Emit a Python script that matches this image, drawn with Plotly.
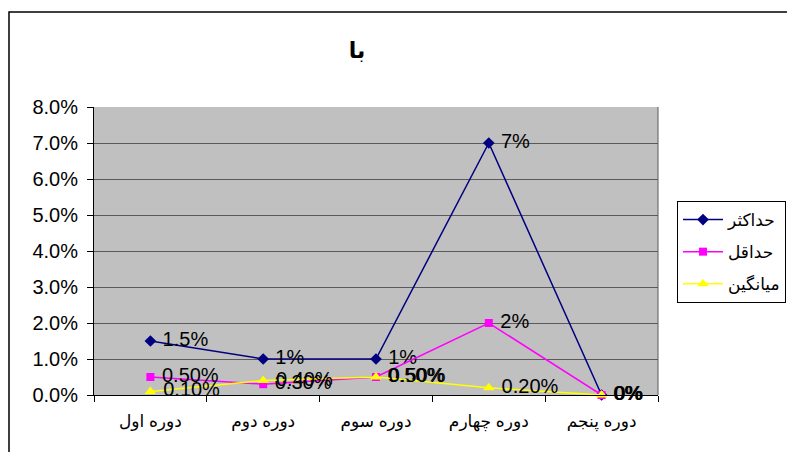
import plotly.graph_objects as go

categories = ["دوره اول", "دوره دوم", "دوره سوم", "دوره چهارم", "دوره پنجم"]

series_names = ["حداکثر", "حداقل", "میانگین"]
max_values = [0.015, 0.01, 0.01, 0.07, 0.0]
min_values = [0.005, 0.003, 0.005, 0.02, 0.0]
avg_values = [0.001, 0.004, 0.005, 0.002, 0.0]

max_labels = ["1.5%", "1%", "1%", "7%", "0%"]
min_labels = ["0.50%", "0.30%", "0.50%", "2%", "0%"]
avg_labels = ["0.10%", "0.40%", "0.50%", "0.20%", "0%"]

y_ticks = [0.0, 0.01, 0.02, 0.03, 0.04, 0.05, 0.06, 0.07, 0.08]

styles = [
    dict(color="#000080", symbol="diamond", size=9),
    dict(color="#FF00FF", symbol="square", size=8),
    dict(color="#FFFF00", symbol="triangle-up", size=10),
]

fig = go.Figure()
for i, (name, vals, labels, st) in enumerate(zip(series_names,
                                                 [max_values, min_values, avg_values],
                                                 [max_labels, min_labels, avg_labels],
                                                 styles)):
    fig.add_trace(go.Scatter(
        x=categories, y=vals, name=name, legendgroup=f"g{i}",
        mode="lines+markers+text",
        text=[" " + t for t in labels], textposition="middle right",
        textfont=dict(family="Arial, Liberation Sans, sans-serif", size=20, color="black"),
        line=dict(color=st["color"], width=1.5),
        marker=dict(color=st["color"], symbol=st["symbol"], size=st["size"]),
        cliponaxis=False,
    ))

L, R, T, B = 94, 129, 107, 57
W, H = 787, 452
pw, ph = W - L - R, H - T - B

# outer chart border
fig.add_shape(type="rect", xref="paper", yref="paper",
              x0=(9 - L) / pw, x1=(W + 10 - L) / pw,
              y0=-(H + 10 - (H - B)) / ph, y1=((H - B) - 12) / ph,
              line=dict(color="black", width=1.5), fillcolor="rgba(0,0,0,0)",
              layer="below")

fig.update_layout(
    width=W, height=H,
    margin=dict(l=L, r=R, t=T, b=B, autoexpand=False),
    paper_bgcolor="white",
    plot_bgcolor="#C0C0C0",
    font=dict(family="Arial, Liberation Sans, DejaVu Sans, sans-serif", color="black"),
    title=dict(text="<b>با</b>", x=357 / W, y=1 - 50 / H, xanchor="center", yanchor="middle",
               font=dict(size=22, color="black")),
    legend=dict(xref="container", yref="container",
                x=677 / W, y=1 - 201 / H, xanchor="left", yanchor="top",
                bordercolor="black", borderwidth=1, bgcolor="white",
                font=dict(size=17), itemwidth=40, tracegroupgap=7),
    showlegend=True,
)

fig.update_xaxes(
    type="category", range=[-0.5, 4.5],
    showline=True, linecolor="black", linewidth=1,
    ticks="outside", tickson="boundaries", ticklen=6, tickcolor="black",
    tickfont=dict(size=17), ticklabelstandoff=11,
    showgrid=False, mirror=False,
)
fig.update_yaxes(
    range=[0, 0.08], tickvals=y_ticks, tickformat=".1%",
    showline=True, linecolor="black", linewidth=1,
    ticks="outside", ticklen=6, tickcolor="black",
    tickfont=dict(size=20), ticklabelstandoff=5,
    showgrid=True, gridcolor="#5a5a5a", gridwidth=1, zeroline=False,
)

# right edge of the plot area
fig.add_shape(type="line", xref="paper", yref="paper", x0=1, x1=1, y0=0, y1=1,
              line=dict(color="#5a5a5a", width=1))

fig.write_html("out.html")
